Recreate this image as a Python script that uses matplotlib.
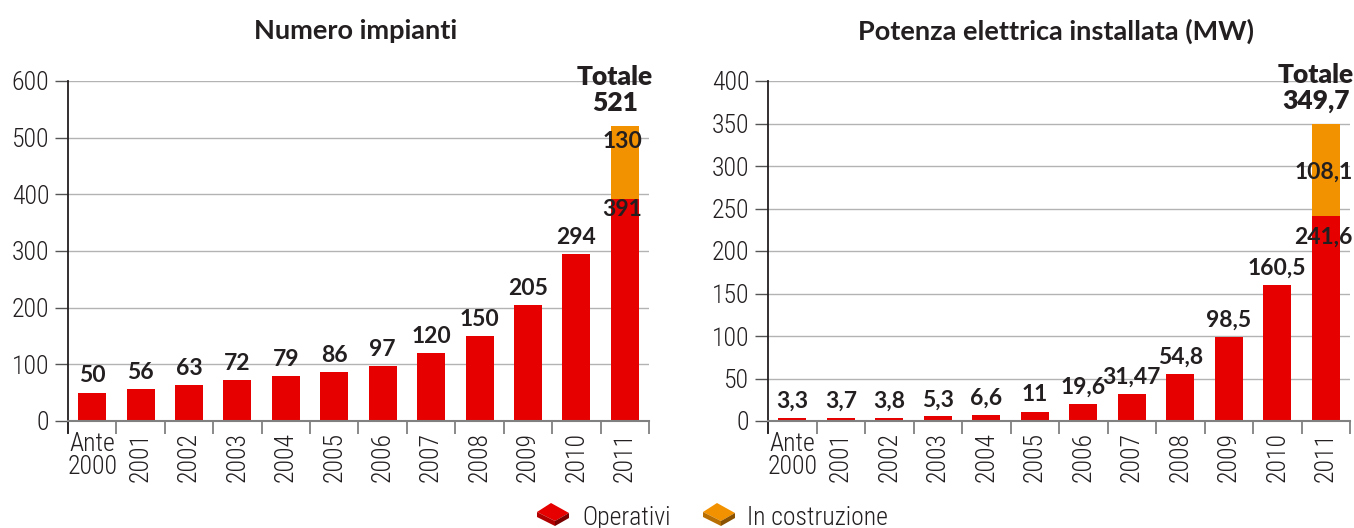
import numpy as np
import matplotlib
matplotlib.use('Agg')
import matplotlib.pyplot as plt
from matplotlib.patches import Polygon

# ---- data ----
anni = ['Ante\n2000', '2001', '2002', '2003', '2004', '2005', '2006',
        '2007', '2008', '2009', '2010', '2011']
impianti_operativi = [50, 56, 63, 72, 79, 86, 97, 120, 150, 205, 294, 391]
impianti_costruzione = [0, 0, 0, 0, 0, 0, 0, 0, 0, 0, 0, 130]
totale_impianti = 521
potenza_operativi = [3.3, 3.7, 3.8, 5.3, 6.6, 11, 19.6, 31.47, 54.8, 98.5, 160.5, 241.6]
potenza_costruzione = [0, 0, 0, 0, 0, 0, 0, 0, 0, 0, 0, 108.1]
totale_potenza = 349.7
titoli = ['Numero impianti', 'Potenza elettrica installata (MW)']
legenda = ['Operativi', 'In costruzione']

RED = '#e60000'
ORANGE = '#f39200'
TXT = '#231f20'
GRID = '#b3b3b3'

plt.rcParams['font.family'] = ['Roboto Condensed', 'Sofia Sans Condensed',
                               'Archivo Narrow', 'DejaVu Sans']
plt.rcParams['font.weight'] = 'light'
BOLD = ['Lato', 'DejaVu Sans']

W, H = 1354, 528
fig = plt.figure(figsize=(W / 100, H / 100), dpi=100)


def fx(px):
    return px / W


def fy(py):
    return 1 - py / H


axL = fig.add_axes([fx(68), fy(421), (649 - 68) / W, (421 - 81) / H])
axR = fig.add_axes([fx(768), fy(421), (1350 - 768) / W, (421 - 81) / H])


def fmt(v):
    return f"{v:g}".replace('.', ',')


def setup(ax, ymax, step):
    ax.set_xlim(-0.5, 11.5)
    ax.set_ylim(0, ymax)
    ax.set_yticks(np.arange(0, ymax + 1, step))
    ax.grid(axis='y', color=GRID, lw=1)
    ax.set_axisbelow(True)
    for s in ['top', 'right']:
        ax.spines[s].set_visible(False)
    ax.spines['left'].set_color(TXT)
    ax.spines['left'].set_linewidth(1.3)
    ax.spines['left'].set_bounds(-ymax * 12 / 340, ymax)
    ax.spines['bottom'].set_color('#808080')
    ax.spines['bottom'].set_linewidth(1.5)
    ax.tick_params(axis='y', length=9.5, width=1, color='#555555', pad=4,
                   labelsize=18.5, labelcolor=TXT)
    ax.set_xticks(range(12))
    ax.set_xticklabels(anni)
    ax.tick_params(axis='x', which='major', length=0, pad=8, labelsize=18.5,
                   labelcolor=TXT)
    ax.set_xticks(np.arange(-0.5, 12, 1), minor=True)
    ax.tick_params(axis='x', which='minor', length=9, width=1.3, color='#808080')
    for i, lab in enumerate(ax.get_xticklabels()):
        if i == 0:
            lab.set_rotation(0)
            lab.set_linespacing(0.95)
        else:
            lab.set_rotation(90)
        lab.set_va('top')


def draw(ax, oper, costr, totale, ymax, step, lab_oper_off, lab_costr_mode):
    setup(ax, ymax, step)
    x = np.arange(len(oper))
    ax.bar(x, oper, width=0.58, color=RED, zorder=2)
    ax.bar(x, costr, bottom=oper, width=0.58, color=ORANGE, zorder=2)
    kw = dict(ha='center', fontsize=16.5, fontweight='bold', family=BOLD,
              color=TXT, textcoords='offset points', zorder=5)
    for i in range(len(oper) - 1):
        ax.annotate(fmt(oper[i]), (x[i], oper[i]), xytext=(0, 4.5),
                    va='bottom', **kw)
    i = len(oper) - 1
    ax.annotate(fmt(oper[i]), (x[i] - 0.05, oper[i]), xytext=(0, lab_oper_off),
                va='top', **kw)
    if lab_costr_mode == 'top':
        ax.annotate(fmt(costr[i]), (x[i] - 0.05, oper[i] + costr[i]),
                    xytext=(0, -4), va='top', **kw)
    else:
        ax.annotate(fmt(costr[i]), (x[i] - 0.05, oper[i] + costr[i] / 2),
                    xytext=(0, -2), va='center', **kw)
    ax.annotate('Totale\n' + fmt(totale), (x[i] - 0.2, totale), xytext=(0, 7.5),
                textcoords='offset points', ha='center', va='bottom',
                fontsize=19, fontweight='heavy', family=BOLD, color=TXT,
                linespacing=1.1, annotation_clip=False)


draw(axL, impianti_operativi, impianti_costruzione, totale_impianti, 600, 100,
     0, 'top')
draw(axR, potenza_operativi, potenza_costruzione, totale_potenza, 400, 50,
     -8, 'center')

fig.text(fx(356), fy(31), titoli[0], ha='center', va='center', fontsize=19.5,
         fontweight='bold', family=BOLD, color=TXT)
fig.text(fx(1056), fy(31), titoli[1], ha='center', va='center', fontsize=19.5,
         fontweight='bold', family=BOLD, color=TXT)


# ---- legend with brick icons ----
def brick(x0, y0, top, left, right):
    t = 5
    A = (x0, y0 + 9)
    B = (x0 + 14, y0)
    C = (x0 + 32, y0 + 10)
    D = (x0 + 18, y0 + 18)
    faces = [([A, B, C, D], top),
             ([A, D, (D[0], D[1] + t), (A[0], A[1] + t)], left),
             ([D, C, (C[0], C[1] + t), (D[0], D[1] + t)], right)]
    for pts, col in faces:
        fig.patches.append(Polygon([(fx(px), fy(py)) for px, py in pts],
                                   closed=True, facecolor=col, edgecolor='none',
                                   transform=fig.transFigure, figure=fig))


brick(537, 503, RED, '#b00000', '#7a0000')
brick(703, 503, ORANGE, '#b86e00', '#8a5200')
fig.text(fx(582), fy(525), legenda[0], ha='left', va='baseline', fontsize=18.5,
         color=TXT)
fig.text(fx(747), fy(525), legenda[1], ha='left', va='baseline', fontsize=18.5,
         color=TXT)

fig.savefig('out.png', dpi=100)
